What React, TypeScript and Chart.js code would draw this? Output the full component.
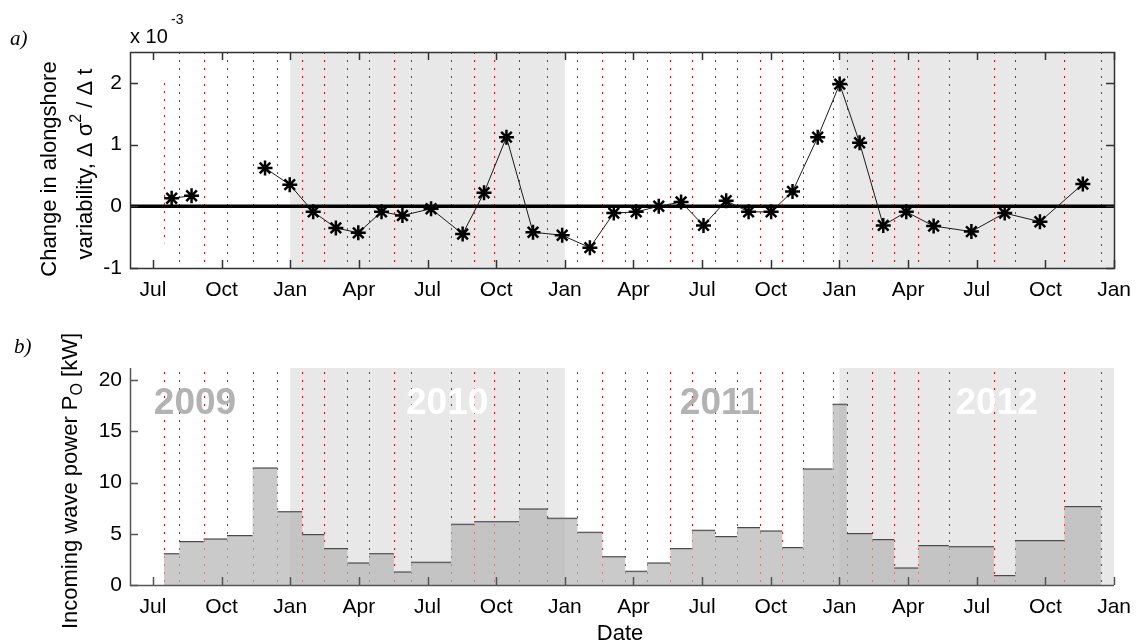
import React, { useEffect, useRef } from "react";
import { Chart, registerables } from "chart.js";

Chart.register(...registerables);

// ---------------- DATA ----------------
// Survey dates, in months since 1 Jan 2009 (Jul 2009 = 6, Jan 2013 = 48)
const surveyMonths = [
  6.48, 7.16, 8.22, 9.24, 10.36, 11.44, 12.52, 13.49, 14.5, 15.45, 16.53, 17.28,
  19.03, 20.04, 20.9, 22.0, 23.22, 24.55, 25.64, 26.64, 27.6, 28.61, 29.55, 30.57,
  31.53, 32.53, 33.5, 34.4, 35.7, 36.32, 37.44, 38.39, 39.45, 40.78, 42.75, 43.69,
  45.83, 47.44,
];
// Change in alongshore variability between consecutive surveys (x 10^-3)
const variabilityChange = [
  0.13, 0.17, null, null, 0.62, 0.35, -0.09, -0.35, -0.43, -0.09, -0.15, -0.04,
  -0.45, 0.22, 1.12, -0.42, -0.47, -0.67, -0.11, -0.09, 0.0, 0.07, -0.31, 0.09,
  -0.09, -0.09, 0.24, 1.12, 1.98, 1.03, -0.31, -0.09, -0.32, -0.41, -0.11, -0.25,
  0.36,
];
// Incoming wave power between consecutive surveys [kW]
const wavePower = [
  3.02, 4.23, 4.46, 4.81, 11.41, 7.12, 4.91, 3.54, 2.12, 3.02, 1.24, 2.21, 5.92,
  6.15, 6.15, 7.41, 6.5, 5.14, 2.73, 1.33, 2.12, 3.54, 5.33, 4.71, 5.59, 5.24,
  3.64, 11.32, 17.63, 5.0, 4.42, 1.63, 3.83, 3.71, 0.91, 4.32, 7.64,
];
const xTickMonths = [6, 9, 12, 15, 18, 21, 24, 27, 30, 33, 36, 39, 42, 45, 48];
const xTickLabels = [
  "Jul", "Oct", "Jan", "Apr", "Jul", "Oct", "Jan", "Apr", "Jul", "Oct", "Jan",
  "Apr", "Jul", "Oct", "Jan",
];
const topYTicks = [-1, 0, 1, 2];
const bottomYTicks = [0, 5, 10, 15, 20];
const shadedStart = [12, 36];
const shadedEnd = [24, 48];
const yearLabels = ["2009", "2010", "2011", "2012"];
const yearLabelMonths = [7.84, 18.86, 30.78, 42.87];
const yearLabelValue = 16.7;
const firstSurveySpanTop = [-0.6, 2.0];

// ---------------- STYLE ----------------
const FONT = "'Liberation Sans', Arial, Helvetica, sans-serif";
const SERIF = "'Liberation Serif', 'Times New Roman', serif";
const W = 1141;
const H = 322;
const SHADE = "#e8e8e8";
const yearColors = ["#b3b3b3", "#ffffff", "#b3b3b3", "#ffffff"];

type Run = { text: string; font: string; dy?: number };

function drawRotated(ctx: CanvasRenderingContext2D, runs: Run[], baseX: number, centerY: number) {
  ctx.save();
  ctx.translate(baseX, centerY);
  ctx.rotate(-Math.PI / 2);
  ctx.textAlign = "left";
  ctx.textBaseline = "alphabetic";
  ctx.fillStyle = "#000";
  let total = 0;
  runs.forEach((r) => {
    ctx.font = r.font;
    total += ctx.measureText(r.text).width;
  });
  let x = -total / 2;
  runs.forEach((r) => {
    ctx.font = r.font;
    ctx.fillText(r.text, x, r.dy || 0);
    x += ctx.measureText(r.text).width;
  });
  ctx.restore();
}

function drawShadingAndSurveys(chart: any, isTop: boolean) {
  const { ctx, chartArea: a, scales } = chart;
  const x = scales.x;
  const y = scales.y;
  ctx.save();
  ctx.fillStyle = SHADE;
  shadedStart.forEach((s, i) => {
    const x0 = x.getPixelForValue(s);
    const x1 = x.getPixelForValue(shadedEnd[i]);
    ctx.fillRect(x0, a.top, x1 - x0, a.bottom - a.top);
  });
  ctx.strokeStyle = "#ff0000";
  ctx.lineWidth = 1;
  ctx.setLineDash([2, 6]);
  surveyMonths.forEach((m, i) => {
    const px = Math.round(x.getPixelForValue(m)) + 0.5;
    let y0 = a.top;
    let y1 = a.bottom;
    if (isTop && i === 0) {
      y0 = y.getPixelForValue(firstSurveySpanTop[1]);
      y1 = y.getPixelForValue(firstSurveySpanTop[0]);
    }
    if (!isTop) y0 = a.top + 4;
    ctx.beginPath();
    ctx.moveTo(px, y0);
    ctx.lineTo(px, y1);
    ctx.stroke();
  });
  ctx.setLineDash([]);
  ctx.restore();
}

function drawInwardTicks(chart: any, full: boolean, color: string) {
  const { ctx, chartArea: a, scales } = chart;
  const x = scales.x;
  const y = scales.y;
  const L = 8;
  ctx.save();
  ctx.strokeStyle = color;
  ctx.lineWidth = 1.5;
  ctx.beginPath();
  x.ticks.forEach((t: any) => {
    const px = Math.round(x.getPixelForValue(t.value)) + 0.5;
    ctx.moveTo(px, a.bottom);
    ctx.lineTo(px, a.bottom - L);
    if (full) {
      ctx.moveTo(px, a.top);
      ctx.lineTo(px, a.top + L);
    }
  });
  y.ticks.forEach((t: any) => {
    const py = Math.round(y.getPixelForValue(t.value)) + 0.5;
    ctx.moveTo(a.left, py);
    ctx.lineTo(a.left + L, py);
    if (full) {
      ctx.moveTo(a.right, py);
      ctx.lineTo(a.right - L, py);
    }
  });
  ctx.stroke();
  ctx.lineWidth = 1.5;
  ctx.beginPath();
  if (full) {
    ctx.rect(Math.round(a.left) + 0.5, Math.round(a.top) + 0.5, Math.round(a.right - a.left), Math.round(a.bottom - a.top));
  } else {
    ctx.moveTo(Math.round(a.left) + 0.5, a.top);
    ctx.lineTo(Math.round(a.left) + 0.5, Math.round(a.bottom) + 0.5);
    ctx.lineTo(a.right, Math.round(a.bottom) + 0.5);
  }
  ctx.stroke();
  ctx.restore();
}

const topPlugin = {
  id: "topDecor",
  beforeDatasetsDraw(chart: any) {
    drawShadingAndSurveys(chart, true);
    const { ctx, chartArea: a, scales } = chart;
    const y0 = scales.y.getPixelForValue(0);
    ctx.save();
    ctx.strokeStyle = "#000";
    ctx.lineWidth = 3.5;
    ctx.beginPath();
    ctx.moveTo(a.left, y0);
    ctx.lineTo(a.right, y0);
    ctx.stroke();
    ctx.restore();
  },
  afterDatasetsDraw(chart: any) {
    drawInwardTicks(chart, true, "#333");
  },
  afterDraw(chart: any) {
    const { ctx } = chart;
    ctx.save();
    ctx.fillStyle = "#000";
    ctx.textAlign = "left";
    ctx.textBaseline = "alphabetic";
    ctx.font = `italic 21px ${SERIF}`;
    ctx.fillText("a)", 10, 45);
    ctx.font = `20px ${FONT}`;
    ctx.fillText("x 10", 130, 43);
    ctx.font = `14px ${FONT}`;
    ctx.fillText("-3", 171, 24);
    ctx.restore();
    drawRotated(ctx, [{ text: "Change in alongshore", font: `22px ${FONT}` }], 56, 169);
    drawRotated(
      ctx,
      [
        { text: "variability, \u0394 \u03c3", font: `22px ${FONT}` },
        { text: "2", font: `16px ${FONT}`, dy: -11 },
        { text: " / \u0394 t", font: `22px ${FONT}` },
      ],
      92,
      164
    );
  },
};

const bottomPlugin = {
  id: "bottomDecor",
  beforeDatasetsDraw(chart: any) {
    drawShadingAndSurveys(chart, false);
  },
  afterDatasetsDraw(chart: any) {
    drawInwardTicks(chart, false, "#555");
  },
  afterDraw(chart: any) {
    const { ctx, scales } = chart;
    ctx.save();
    ctx.textBaseline = "alphabetic";
    ctx.textAlign = "center";
    ctx.font = `bold 37px ${FONT}`;
    yearLabels.forEach((t, i) => {
      ctx.fillStyle = yearColors[i];
      ctx.fillText(t, scales.x.getPixelForValue(yearLabelMonths[i]), scales.y.getPixelForValue(yearLabelValue));
    });
    ctx.fillStyle = "#000";
    ctx.textAlign = "left";
    ctx.font = `italic 21px ${SERIF}`;
    ctx.fillText("b)", 14, 31);
    ctx.textAlign = "center";
    ctx.font = `22px ${FONT}`;
    ctx.fillText("Date", 620, 318);
    ctx.restore();
    drawRotated(
      ctx,
      [
        { text: "Incoming wave power P", font: `22px ${FONT}` },
        { text: "O", font: `16px ${FONT}`, dy: 5 },
        { text: " [kW]", font: `22px ${FONT}` },
      ],
      77,
      159
    );
  },
};

function xScale(height: number) {
  return {
    type: "linear",
    min: 5,
    max: 48,
    afterBuildTicks: (s: any) => {
      s.ticks = xTickMonths.map((v) => ({ value: v }));
    },
    afterFit: (s: any) => {
      s.height = height;
    },
    ticks: {
      autoSkip: false,
      maxRotation: 0,
      padding: 10,
      color: "#000",
      font: { family: FONT, size: 21 },
      callback: (v: number) => xTickLabels[xTickMonths.indexOf(v)],
    },
    grid: { display: false, drawTicks: false },
    border: { display: false },
  };
}

function yScale(min: number, max: number, ticks: number[]) {
  return {
    type: "linear",
    min,
    max,
    afterBuildTicks: (s: any) => {
      s.ticks = ticks.map((v) => ({ value: v }));
    },
    afterFit: (s: any) => {
      s.width = 130;
    },
    ticks: {
      padding: 8,
      color: "#000",
      font: { family: FONT, size: 21 },
    },
    grid: { display: false, drawTicks: false },
    border: { display: false },
  };
}

export default function App() {
  const topRef = useRef<HTMLCanvasElement>(null);
  const botRef = useRef<HTMLCanvasElement>(null);

  useEffect(() => {
    const mids = variabilityChange.map((_, i) => (surveyMonths[i] + surveyMonths[i + 1]) / 2);
    const topPoints = variabilityChange.map((v, i) => ({ x: mids[i], y: v }));

    const fillPoints = wavePower.map((v, i) => ({ x: surveyMonths[i], y: v }));
    fillPoints.push({ x: surveyMonths[surveyMonths.length - 1], y: wavePower[wavePower.length - 1] });
    const edgePoints: { x: number; y: number | null }[] = [];
    wavePower.forEach((v, i) => {
      edgePoints.push({ x: surveyMonths[i], y: v });
      edgePoints.push({ x: surveyMonths[i + 1], y: v });
      edgePoints.push({ x: surveyMonths[i + 1], y: null });
    });

    const top = new Chart(topRef.current as HTMLCanvasElement, {
      type: "scatter",
      data: {
        datasets: [
          {
            data: topPoints as any,
            showLine: true,
            spanGaps: false,
            borderColor: "#1a1a1a",
            borderWidth: 1,
            pointStyle: "star",
            pointRadius: 7.5,
            pointBorderWidth: 2.5,
            pointBorderColor: "#000",
            pointBackgroundColor: "#000",
          },
        ],
      },
      options: {
        responsive: false,
        animation: false,
        devicePixelRatio: 1,
        events: [],
        layout: { padding: { top: 52, right: 25, left: 0, bottom: 0 } },
        plugins: { legend: { display: false }, tooltip: { enabled: false } },
        scales: {
          x: xScale(H - 268) as any,
          y: yScale(-1, 2.5, topYTicks) as any,
        },
      },
      plugins: [topPlugin],
    });

    const bot = new Chart(botRef.current as HTMLCanvasElement, {
      type: "scatter",
      data: {
        datasets: [
          {
            data: fillPoints as any,
            showLine: true,
            stepped: true,
            fill: "origin",
            backgroundColor: "rgba(181,181,181,0.72)",
            borderColor: "rgba(0,0,0,0)",
            borderWidth: 0,
            pointRadius: 0,
          },
          {
            data: edgePoints as any,
            showLine: true,
            spanGaps: false,
            borderColor: "#333",
            borderWidth: 1.5,
            pointRadius: 0,
          },
        ],
      },
      options: {
        responsive: false,
        animation: false,
        devicePixelRatio: 1,
        events: [],
        layout: { padding: { top: 46, right: 25, left: 0, bottom: 0 } },
        plugins: { legend: { display: false }, tooltip: { enabled: false } },
        scales: {
          x: xScale(H - 263) as any,
          y: yScale(0, 21.2, bottomYTicks) as any,
        },
      },
      plugins: [bottomPlugin],
    });

    return () => {
      top.destroy();
      bot.destroy();
    };
  }, []);

  return (
    <div style={{ position: "fixed", left: 0, top: 0, width: W, height: 2 * H, background: "#fff" }}>
      <canvas
        ref={topRef}
        width={W}
        height={H}
        style={{ position: "absolute", left: 0, top: 0, width: W, height: H, display: "block" }}
      />
      <canvas
        ref={botRef}
        width={W}
        height={H}
        style={{ position: "absolute", left: 0, top: H, width: W, height: H, display: "block" }}
      />
    </div>
  );
}
